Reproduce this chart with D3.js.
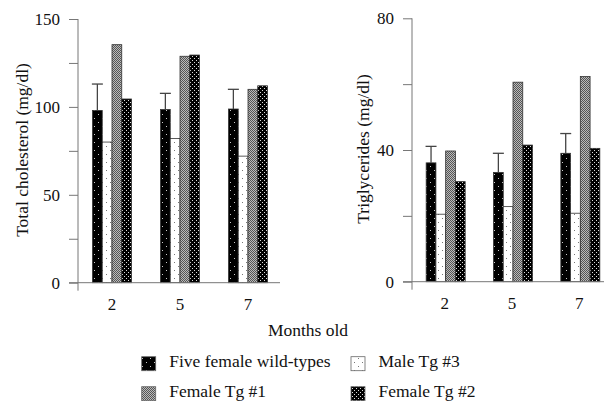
<!DOCTYPE html>
<html><head><meta charset="utf-8">
<script src="https://cdn.jsdelivr.net/npm/d3@7"></script>
<style>body{margin:0;background:#fff}svg{display:block}</style>
</head><body>
<svg id="c" width="604" height="401"></svg>
<script>
const months = ["2", "5", "7"];
const seriesNames = ["Five female wild-types", "Male Tg #3", "Female Tg #1", "Female Tg #2"];
const cholWT = [98, 98.5, 98.8];
const cholWTErr = [113, 107.7, 110];
const cholM3 = [80, 82, 72];
const cholF1 = [135.4, 128.8, 110];
const cholF2 = [104.5, 129.5, 112];
const trigWT = [36.1, 33.2, 39];
const trigWTErr = [41.1, 39, 45];
const trigM3 = [20.5, 22.8, 20.8];
const trigF1 = [39.7, 60.6, 62.3];
const trigF2 = [30.4, 41.5, 40.5];
const cholTicks = [0, 25, 50, 75, 100, 125, 150];
const cholLabels = [0, 50, 100, 150];
const trigTicks = [0, 20, 40, 60, 80];
const trigLabels = [0, 40, 80];

const FONT = '"Liberation Serif", "Times New Roman", serif';
const svg = d3.select("#c");
const defs = svg.append("defs");
function pat(id, w, h, bg, dots, dc) {
  const p = defs.append("pattern").attr("id", id).attr("patternUnits", "userSpaceOnUse").attr("width", w).attr("height", h);
  p.append("rect").attr("width", w).attr("height", h).attr("fill", bg);
  dots.forEach(d => p.append("rect").attr("x", d[0]).attr("y", d[1]).attr("width", 1).attr("height", 1).attr("fill", dc));
}
pat("p0", 8, 8, "#000", [[2, 2], [6, 6]], "#ccc");
pat("p1", 8, 8, "#fff", [[2, 2], [6, 6]], "#777");
pat("p2", 2, 2, "#bbb", [[0, 0], [1, 1]], "#555");
pat("p3", 4, 4, "#000", [[0, 0], [2, 2]], "#ddd");
const fills = ["url(#p0)", "url(#p1)", "url(#p2)", "url(#p3)"];

function styleText(sel, size) {
  sel.style("font-family", FONT).style("font-size", size + "px").attr("fill", "#111");
}

function panel(cfg) {
  const g = svg.append("g");
  const x = d3.scaleBand().domain(months).range(cfg.xr).paddingInner(0).paddingOuter(0);
  const y = d3.scaleLinear().domain([0, cfg.max]).range(cfg.yr);
  const groupW = 39;
  const inner = d3.scaleBand().domain(d3.range(4)).range([-groupW / 2, groupW / 2]);
  const data = cfg.series;
  months.forEach((m, i) => {
    const c = x(m) + x.bandwidth() / 2;
    data.forEach((s, k) => {
      g.append("rect")
        .attr("x", c + inner(k)).attr("width", inner.bandwidth())
        .attr("y", y(s[i])).attr("height", y(0) - y(s[i]))
        .attr("fill", fills[k]).attr("stroke", "#333").attr("stroke-width", 0.8);
    });
    const ex = c + inner(0) + inner.bandwidth() / 2;
    g.append("line").attr("x1", ex).attr("x2", ex).attr("y1", y(data[0][i])).attr("y2", y(cfg.err[i]))
      .attr("stroke", "#444").attr("stroke-width", 1.3);
    g.append("line").attr("x1", ex - 5.5).attr("x2", ex + 5.5).attr("y1", y(cfg.err[i])).attr("y2", y(cfg.err[i]))
      .attr("stroke", "#444").attr("stroke-width", 1.3);
  });
  const ya = d3.axisLeft(y).tickValues(cfg.ticks).tickSize(9).tickPadding(9)
    .tickFormat(d => cfg.labels.includes(d) ? d : "");
  const yg = g.append("g").attr("transform", `translate(${cfg.xr[0]},0)`).call(ya);
  yg.select(".domain").remove();
  yg.selectAll(".tick line").attr("stroke", "#777");
  styleText(yg.selectAll("text"), 17);
  g.append("line").attr("x1", cfg.xr[0]).attr("x2", cfg.xr[0]).attr("y1", cfg.yr[1]).attr("y2", cfg.yr[0] + 8).attr("stroke", "#777");
  g.append("line").attr("x1", cfg.xr[0] - 9).attr("x2", cfg.xEnd).attr("y1", y(0)).attr("y2", y(0)).attr("stroke", "#777");
  const xa = d3.axisBottom(x).tickSize(0).tickPadding(15);
  const xg = g.append("g").attr("transform", `translate(${cfg.xOff},${y(0)})`).call(xa);
  xg.select(".domain").remove();
  styleText(xg.selectAll("text"), 17);
  styleText(g.append("text").attr("transform", `translate(${cfg.tx},${cfg.ty}) rotate(-90)`)
    .attr("text-anchor", "middle").text(cfg.title), 17.5);
}

panel({xr: [78, 282], yr: [282.7, 19], max: 150, xEnd: 280, xOff: 0,
  series: [cholWT, cholM3, cholF1, cholF2], err: cholWTErr,
  ticks: cholTicks, labels: cholLabels, title: "Total cholesterol (mg/dl)", tx: 28, ty: 150});
panel({xr: [412, 614], yr: [281.7, 18.3], max: 80, xEnd: 604, xOff: -1,
  series: [trigWT, trigM3, trigF1, trigF2], err: trigWTErr,
  ticks: trigTicks, labels: trigLabels, title: "Triglycerides (mg/dl)", tx: 369, ty: 149});

styleText(svg.append("text").attr("x", 308).attr("y", 336).attr("text-anchor", "middle").text("Months old"), 17.5);

const legPos = [[141.7, 356.7], [351, 356.7], [141.7, 386.7], [351, 386.7]];
seriesNames.forEach((n, k) => {
  const [lx, ly] = legPos[k];
  svg.append("rect").attr("x", lx).attr("y", ly).attr("width", 14).attr("height", 14)
    .attr("fill", fills[k]).attr("stroke", "#666").attr("stroke-width", 0.8);
  styleText(svg.append("text").attr("x", lx + 27.5).attr("y", ly + 10.5).text(n), 17.5);
});
</script>
</body></html>
